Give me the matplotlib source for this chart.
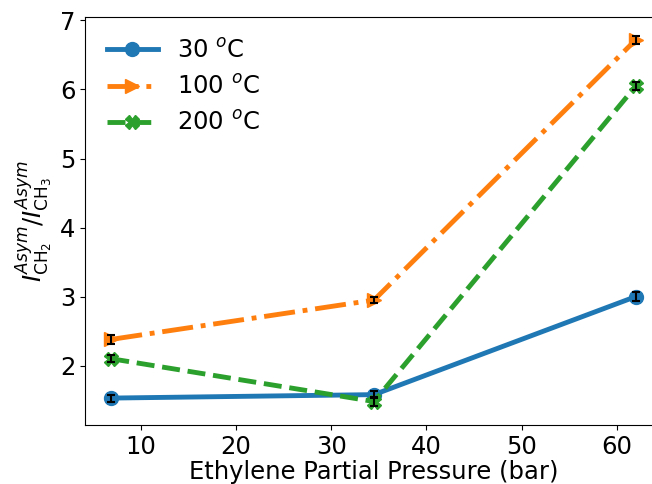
import matplotlib
matplotlib.use('Agg')
import matplotlib.pyplot as plt

pressure = [6.9, 34.5, 62.0]
ratio_30 = [1.53, 1.58, 3.00]
err_30 = [0.05, 0.05, 0.06]
ratio_100 = [2.38, 2.95, 6.72]
err_100 = [0.06, 0.05, 0.06]
ratio_200 = [2.10, 1.48, 6.05]
err_200 = [0.05, 0.07, 0.06]
labels = ['30 $^o$C', '100 $^o$C', '200 $^o$C']

fig = plt.figure(figsize=(6.52, 4.84), dpi=100)
ax = fig.add_axes([85/652, 1 - 425/484, 577/652, 408/484])

series = [
    (ratio_30, err_30, 'tab:blue', '-', 'o'),
    (ratio_100, err_100, 'tab:orange', '-.', '>'),
    (ratio_200, err_200, 'tab:green', '--', 'X'),
]
for (vals, errs, col, ls, mk), lab in zip(series, labels):
    ax.plot(pressure, vals, color=col, ls=ls, lw=3.5, marker=mk, ms=10, label=lab)
    ax.errorbar(pressure, vals, yerr=errs, fmt='none', ecolor='k',
                elinewidth=1.5, capsize=3, capthick=1.5, zorder=3)

ax.set_xlim(4.14, 64.75)
ax.set_ylim(1.14, 7.05)
ax.set_xticks([10, 20, 30, 40, 50, 60])
ax.tick_params(labelsize=17.5)
ax.set_xlabel('Ethylene Partial Pressure (bar)', fontsize=17.5, labelpad=1)
ax.set_ylabel(r'$I^{Asym}_{\mathrm{CH}_2}/I^{Asym}_{\mathrm{CH}_3}$', fontsize=17.5)
ax.legend(fontsize=17.5, frameon=False, loc='upper left', handlelength=2.1)

fig.savefig('out.png', dpi=100)
